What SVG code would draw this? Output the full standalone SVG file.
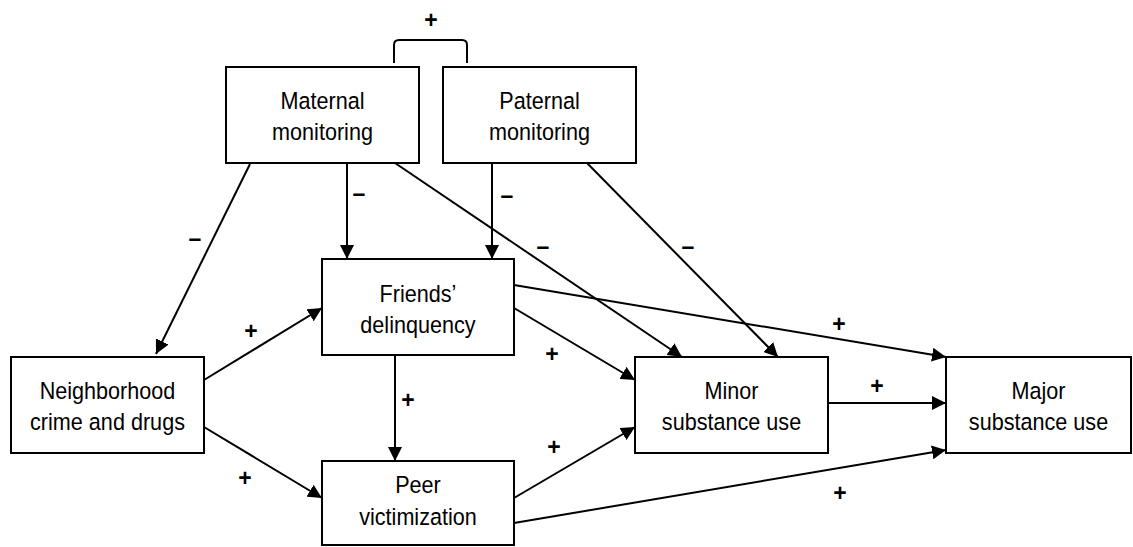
<svg xmlns="http://www.w3.org/2000/svg" width="1133" height="547" viewBox="0 0 1133 547">
<style>
.box{fill:#fff;stroke:#000;stroke-width:2}
.t{font-family:"Liberation Sans",Arial,sans-serif;font-size:23.5px;fill:#000;text-anchor:middle}
.lbl{font-family:"Liberation Sans",Arial,sans-serif;font-size:23px;font-weight:bold;fill:#000;text-anchor:middle}
.c{stroke:#000;stroke-width:2;fill:none}
.a{stroke:#000;stroke-width:2;fill:none;marker-end:url(#ah)}
</style>
<defs>
<marker id="ah" markerUnits="userSpaceOnUse" markerWidth="15" markerHeight="14" refX="14" refY="7" orient="auto">
<path d="M0,0 L14,7 L0,14 z" fill="#000"/>
</marker>
</defs>
<rect width="1133" height="547" fill="#fff"/>
<g id="connectors">
<path class="c" d="M394,63 V45 Q394,40 399,40 H462 Q467,40 467,45 V63"/>
<line class="a" x1="250" y1="164" x2="156" y2="354"/>
<line class="a" x1="347" y1="163" x2="347" y2="259"/>
<line class="a" x1="395" y1="163" x2="682" y2="357"/>
<line class="a" x1="492" y1="163" x2="492" y2="259"/>
<line class="a" x1="587" y1="163" x2="778" y2="357"/>
<line class="a" x1="204" y1="380" x2="322" y2="308"/>
<line class="a" x1="204" y1="427" x2="322" y2="498"/>
<line class="a" x1="395" y1="355" x2="395" y2="461"/>
<line class="a" x1="514" y1="308" x2="635" y2="380"/>
<line class="a" x1="514" y1="285" x2="946" y2="357"/>
<line class="a" x1="828" y1="403" x2="946" y2="403"/>
<line class="a" x1="514" y1="498" x2="635" y2="427"/>
<line class="a" x1="514" y1="523" x2="946" y2="450"/>
<g id="labels">
<text class="lbl" x="431" y="28">+</text>
<text class="lbl" x="195" y="246">–</text>
<text class="lbl" x="359" y="201">–</text>
<text class="lbl" x="507" y="203">–</text>
<text class="lbl" x="543" y="254">–</text>
<text class="lbl" x="688" y="254">–</text>
<text class="lbl" x="251" y="339">+</text>
<text class="lbl" x="245" y="486">+</text>
<text class="lbl" x="408" y="408">+</text>
<text class="lbl" x="552" y="362">+</text>
<text class="lbl" x="839" y="332">+</text>
<text class="lbl" x="877" y="394">+</text>
<text class="lbl" x="554" y="455">+</text>
<text class="lbl" x="840" y="501">+</text>
</g>
</g>
<g id="maternal">
<rect class="box" x="226" y="67" width="193" height="96"/>
<g transform="translate(322.5,0) scale(0.92,1)">
<text class="t" x="0" y="109">Maternal</text>
<text class="t" x="0" y="140">monitoring</text>
</g>
</g>
<g id="paternal">
<rect class="box" x="443" y="67" width="193" height="96"/>
<g transform="translate(539.5,0) scale(0.92,1)">
<text class="t" x="0" y="109">Paternal</text>
<text class="t" x="0" y="140">monitoring</text>
</g>
</g>
<g id="friends">
<rect class="box" x="322" y="259" width="192" height="96"/>
<g transform="translate(418,0) scale(0.92,1)">
<text class="t" x="0" y="302">Friends’</text>
<text class="t" x="0" y="333">delinquency</text>
</g>
</g>
<g id="neighborhood">
<rect class="box" x="11" y="357" width="193" height="96"/>
<g transform="translate(107.5,0) scale(0.92,1)">
<text class="t" x="0" y="399">Neighborhood</text>
<text class="t" x="0" y="430">crime and drugs</text>
</g>
</g>
<g id="peer">
<rect class="box" x="322" y="461" width="192" height="84"/>
<g transform="translate(418,0) scale(0.92,1)">
<text class="t" x="0" y="493">Peer</text>
<text class="t" x="0" y="525">victimization</text>
</g>
</g>
<g id="minor">
<rect class="box" x="635" y="357" width="193" height="96"/>
<g transform="translate(731.5,0) scale(0.92,1)">
<text class="t" x="0" y="399">Minor</text>
<text class="t" x="0" y="430">substance use</text>
</g>
</g>
<g id="major">
<rect class="box" x="946" y="357" width="185" height="96"/>
<g transform="translate(1038.5,0) scale(0.92,1)">
<text class="t" x="0" y="399">Major</text>
<text class="t" x="0" y="430">substance use</text>
</g>
</g>
</svg>
